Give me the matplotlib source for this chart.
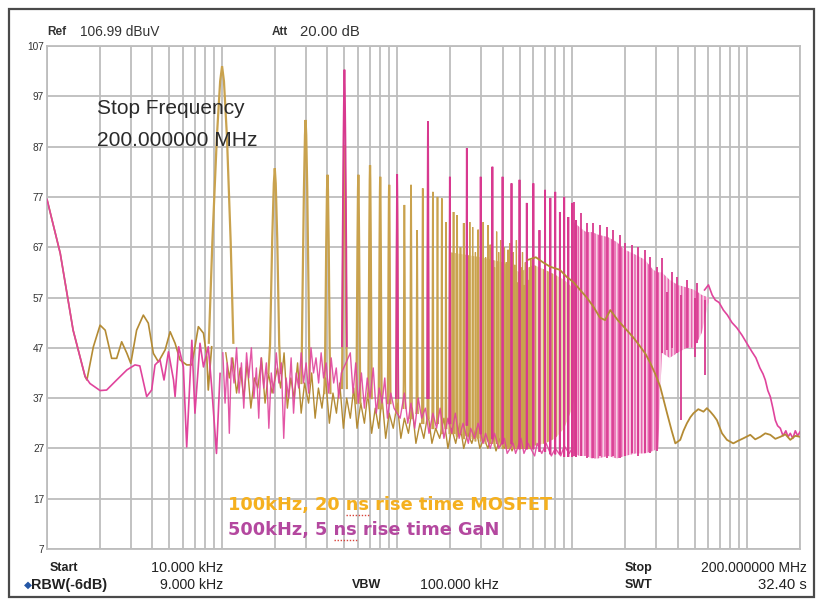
import numpy as np
import matplotlib
matplotlib.use("Agg")
import matplotlib.pyplot as plt
from matplotlib.patches import Rectangle
from matplotlib.lines import Line2D

W, H = 822, 605

# ---------------- data ----------------
y_ticks = [7, 17, 27, 37, 47, 57, 67, 77, 87, 97, 107]
f_start_hz = 10e3
f_stop_hz = 200e6

# MOSFET, 100 kHz fundamental (tan trace)
mos_f0_khz = 100
mos_low_khz = [10, 11.9, 14.1, 16.5, 16.9, 18.4, 20.1, 21.5, 23.4, 25.0, 26.7, 28.6, 30.1, 32.5, 35.5,
               37.9, 40.5, 43.3, 47.3, 50.5, 53.9, 57.5, 62.8, 67.2, 73.2, 78.3, 81.8, 83.4, 87.2]
mos_low_db = [76.5, 65.8, 50.5, 41.3, 40.6, 47.2, 51.5, 50.5, 44.9, 44.9, 48.2, 45.9, 43.9, 50.5, 53.5,
              51.9, 45.9, 44.2, 46.6, 50.2, 47.9, 44.6, 43.6, 43.6, 51.2, 49.9, 45.2, 38.6, 47.2]
mos_floor_khz = [105, 110, 115, 121, 127, 133, 139, 146, 153, 160, 168, 176, 184, 193, 207, 216, 226, 236,
                 247, 258, 270, 283, 296, 312, 325, 340, 355, 372, 390, 410, 430, 450, 470, 493, 515, 540,
                 565, 590, 620, 650, 680, 715, 750, 785, 820, 860, 900, 950, 1000, 1050, 1100, 1160, 1220,
                 1280, 1350, 1420, 1500, 1580, 1660, 1750, 1850, 1950, 2050, 2160, 2280, 2400, 2530, 2670,
                 2820, 2970, 3130, 3300, 3480, 3670, 3870, 4080, 4300, 4530, 4780, 5040, 5300, 5600]
mos_floor_db = [46, 41, 45, 38, 43, 37, 44, 35, 41, 39, 45, 36, 42, 38, 43, 39, 46, 35,
                41, 37, 44, 34, 40, 36, 42, 33, 39, 35, 41, 32, 38, 34, 40, 31, 37, 33,
                39, 31, 36, 32, 38, 30, 35, 31, 37, 29, 34, 31, 36, 29, 33, 30, 35,
                28, 32, 29, 34, 28, 31, 29, 33, 27, 31, 28, 32, 27, 30, 28,
                31, 27, 29, 27, 30, 26.5, 29, 27, 29.5, 26.5, 28.5, 27, 29, 27]
mos_harm_n = list(range(1, 61))
mos_peak_db = [103, 82.7, 92.3, 81.4, 87.3, 81.4, 83.3, 81.0, 79.4, 78.0,
               75.4, 79.4, 70.4, 78.7, 76.0, 78.0, 77.0, 76.7, 72.0, 70.4,
               74.0, 73.4, 67.0, 71.8, 69.4, 72.0, 71.0, 66.0, 70.5, 68.0,
               72.0, 65.0, 71.4, 67.5, 69.0, 63.0, 70.1, 66.0, 68.4, 62.0,
               67.0, 64.0, 66.5, 67.8, 61.0, 66.0, 63.5, 68.4, 60.0, 65.5,
               63.0, 66.0, 59.5, 64.0, 65.4, 60.5, 63.0, 64.5, 58.0, 64.8]
mos_base_db = [47, 42, 40, 38, 39, 36, 37, 35, 36, 34,
               35, 33, 34, 32, 33, 31, 32, 30, 31, 30,
               30, 29.5, 30, 29, 29.5, 29, 29, 28.5, 29, 28.5,
               28.5, 28, 28.5, 28, 28, 27.5, 28, 27.5, 27.5, 27,
               27.5, 27, 27, 27, 27, 27, 27, 27, 27, 27,
               27, 27, 27, 27, 27, 27, 27, 27, 27, 27]
mos_band_mhz = [2.0, 3.0, 4.0, 5.0, 6.0, 7.0, 8.0, 9.0, 10.0, 11.0]
mos_band_lo = [30, 29, 28, 27.5, 27.5, 28, 29, 31, 35, 42]
mos_band_hi = [66, 65, 64, 62, 63.5, 62.5, 61.5, 60.5, 59, 57.5]
mos_hf_mhz = [5.6, 6.2, 6.8, 7.5, 8.5, 9.3, 10.2, 11.1, 12.1, 13.2, 14.4, 15.4, 16.5, 18.2, 20.5, 22.4,
              24.5, 26.2, 27.9, 29.8, 31.8, 34.8, 37.0, 38.8, 41.4, 43.2, 45.2, 47.3, 49.3, 52.5, 56.2,
              58.8, 61.5, 64.3, 67.1, 69.5, 71.7, 76.5, 83.2, 88.5, 94.9, 104, 111, 118.6, 126.7, 135.3,
              144.6, 154.4, 165, 176, 188, 200]
mos_hf_db = [64.5, 65, 64, 63.1, 62.5, 61.1, 60, 58.5, 57, 55.2, 53, 52.5, 54.5, 52.5, 50.5, 49,
             47.2, 45.8, 44, 41.8, 39.3, 34, 30.5, 28, 28.7, 30.5, 32, 33.2, 34, 34.8, 34.3,
             35, 34.3, 33.5, 32.6, 31.2, 30, 28.7, 28, 28.5, 29, 29.7, 28.8, 29.3, 30, 29.7,
             28.9, 29.3, 29.8, 28.7, 29.5, 29.3]

# GaN, 500 kHz fundamental (pink trace)
gan_f0_khz = 500
gan_low_khz = [10, 11.9, 14.1, 16.5, 17.6, 20.1, 21.9, 25.0, 28.6, 31.8, 33.9, 37.1, 39.6, 41.4, 44.2,
               46.6, 49.4, 52.8, 53.9, 56.5, 60.1, 62.8, 67.2, 70.0, 74.8, 78.3, 83.4, 87.2, 92.9, 97.4]
gan_low_db = [76.5, 65.8, 50.5, 41.3, 39.9, 38.5, 38.6, 40.6, 42.6, 43.6, 43.4, 37.3, 38.6, 43.6, 44.6,
              40.6, 46.2, 40.6, 37.3, 47.2, 43.2, 27.3, 48.5, 34.0, 47.9, 43.2, 47.2, 39.3, 26.0, 41.9]
gan_floor_khz = [101, 104, 107, 110, 113, 117, 121, 125, 129, 133, 138, 142, 147, 152, 157, 162, 167, 173,
                 179, 185, 191, 197, 204, 211, 218, 225, 232, 240, 248, 256, 265, 274, 283, 292, 302, 312,
                 322, 333, 344, 356, 368, 380, 393, 406, 420, 434, 449, 464, 480, 510, 540, 560, 580, 600,
                 625, 650, 675, 700, 730, 760, 790, 820, 850, 880, 920, 960, 1040, 1100, 1150, 1200, 1260,
                 1320, 1380, 1450, 1520, 1600, 1680, 1760, 1850, 1950, 2050, 2150, 2260, 2380, 2550, 2630,
                 2770, 2900, 3100, 3200, 3400, 3600, 3800, 4100, 4250, 4600, 4750, 5100, 5300, 5600, 6100,
                 6300, 6700, 7100, 7600, 8000, 8600, 9000, 9600, 10000]
gan_floor_db = [46, 36, 44, 30, 45, 40, 47, 38, 44, 35, 46, 41, 47, 37, 43, 33, 45, 39,
                44, 31, 42, 38, 46, 40, 44, 29, 41, 37, 45, 34, 42, 39, 46, 40, 44, 38,
                47, 42, 45, 40, 46, 41, 44, 38, 45, 40, 43, 37, 42, 44, 46, 38, 44, 36,
                42, 35, 41, 37, 43, 34, 39, 36, 41, 33, 38, 35, 33, 38, 32, 36, 31,
                37, 33, 35, 30, 34, 31, 35, 29, 33, 30, 34, 29, 32, 28, 31,
                29, 32, 28, 30, 27, 30, 27, 29, 26, 28, 26, 29, 26, 28, 25.5,
                28, 26, 28, 25.5, 27, 25.5, 27.5, 26, 27]
gan_harm_n = list(range(1, 22))
gan_peak_db = [102.3, 81.5, 92, 81, 86.7, 81, 83, 81, 79.7, 80.4, 75.8, 79.7, 70.4, 78.4, 76.8,
               78, 74, 77, 73, 75.8, 72.4]
gan_base_db = [42, 37, 34, 32, 31, 30, 29, 28, 28, 27, 27, 27, 26.5, 26.5, 26, 26, 26, 25.5, 25.5,
               25.5, 25.5]
gan_band_mhz = [10.2, 11, 12, 13, 14, 16, 18, 20, 23, 26, 29, 31, 32.5, 36, 40, 45, 50, 55, 60]
gan_band_lo = [26, 25.5, 25.5, 25, 25, 25.5, 25, 25.5, 26, 26, 26.5, 27, 46, 45, 46, 47, 47, 50, 56]
gan_band_hi = [72, 71, 70, 70, 69.5, 69, 68, 66.5, 65.5, 64.5, 62.5, 62, 62, 60.5, 59.5, 59, 58.5, 57.5, 57]
gan_spk_mhz = [10.17, 11.21, 12.13, 13.18, 14.45, 15.78, 17.14, 18.8, 20.09, 21.93, 23.8, 26.1, 27.9,
               30.5, 32.6, 37.2, 39.6, 45.2, 51.6]
gan_spk_top = [76, 73.8, 71.8, 71.8, 71.4, 71, 70.4, 69.4, 67.8, 67.4, 67, 66.4, 65.1, 63.1, 64.8,
               62.1, 61.1, 60.5, 59.8]
gan_spk_bot = [25.5, 25.5, 25, 25, 25.5, 25, 25.5, 25, 25.5, 26, 25.5, 26, 26, 26.5, 46, 47, 46, 47, 48]
gan_dip_mhz = [34.8, 41.8, 50.5, 57.5]
gan_dip_top = [58, 57.5, 57, 56.5]
gan_dip_bot = [46.5, 32.6, 45.2, 41.6]
gan_hf_mhz = [57, 60, 63, 65.6, 69, 73, 77, 81.8, 87, 93.3, 99, 106.4, 112, 118, 123, 126.7, 131, 135.3,
              140, 144.6, 149, 154.4, 160, 166, 171, 176, 182, 188, 194, 200]
gan_hf_db = [58.5, 59.5, 57.5, 56.5, 56, 54.5, 53.5, 52, 51, 49.5, 48, 46.2, 45, 43, 41.8, 40.6, 38.5,
             37.3, 35, 32.6, 31.5, 31, 29.5, 30.5, 29.3, 30, 29, 30.5, 29.5, 30.3]

# resolution-bandwidth (9 kHz RBW) filter skirt used to draw each harmonic line
rbw_off_khz = np.array([-16, -12, -6.6, -2.5, 0, 2.5, 6.6, 12, 16])
rbw_rel_db = np.array([-55, -35, -14, -3, 0, -3, -14, -35, -55])

TAN = "#C9A24E"
TAN_D = "#B48B34"
TAN_L = "#EDDDB8"
PINK = "#E0449C"
PINK_D = "#D8398F"
PINK_L = "#F8D2E6"
PINK_H = "#E862AE"

plt.rcParams["hatch.linewidth"] = 1.1

# ---------------- figure ----------------
fig = plt.figure(figsize=(W / 100, H / 100), dpi=100)
ax = fig.add_axes([47 / W, 1 - 549 / H, 753 / W, 503 / H])
ax.set_xscale("log")
ax.set_xlim(f_start_hz, f_stop_hz)
ax.set_ylim(y_ticks[0], y_ticks[-1])
ax.set_axisbelow(True)

grid_f = [m * 10 ** d for d in range(4, 9) for m in range(1, 10) if f_start_hz <= m * 10 ** d <= f_stop_hz]
ax.set_xticks(grid_f)
ax.set_xticks([], minor=True)
ax.set_xticklabels([])
ax.set_yticks(y_ticks)
ax.set_yticklabels([str(v) for v in y_ticks], fontsize=7.3, color="#333333",
                   family=["Liberation Sans", "DejaVu Sans"])
ax.tick_params(length=0, pad=2)
ax.grid(True, color="#BDBDBD", lw=1.3)
for sp in ax.spines.values():
    sp.set_color("#BDBDBD")
    sp.set_linewidth(1.3)

def spike(f_khz, peak, base, color, lw, z):
    fx = (f_khz + rbw_off_khz) * 1e3
    yy = np.maximum(peak + rbw_rel_db, base)
    ax.plot(fx, yy, color=color, lw=lw, zorder=z, solid_joinstyle="miter")

# MOSFET (tan)
ax.fill_between(np.array(mos_band_mhz) * 1e6, mos_band_lo, mos_band_hi, facecolor=TAN_L,
                edgecolor=TAN, hatch="||||", lw=0, zorder=1.8)
ax.plot(np.array(mos_low_khz) * 1e3, mos_low_db, color=TAN_D, lw=1.2, zorder=2)
ax.plot(np.array(mos_floor_khz) * 1e3, mos_floor_db, color=TAN_D, lw=1.0, zorder=2)
for n, pk, bs in zip(mos_harm_n, mos_peak_db, mos_base_db):
    spike(n * mos_f0_khz, pk, bs, TAN, 1.6 if n < 10 else (1.2 if n < 25 else 0.9), 2.1)

# GaN (pink)
ax.plot(np.array(gan_low_khz) * 1e3, gan_low_db, color=PINK, lw=1.2, zorder=3)
ax.plot(np.array(gan_floor_khz) * 1e3, gan_floor_db, color=PINK, lw=1.0, alpha=0.9, zorder=3)
for n, pk, bs in zip(gan_harm_n, gan_peak_db, gan_base_db):
    spike(n * gan_f0_khz, pk, bs, PINK_D, 1.3, 3.1)
ax.fill_between(np.array(gan_band_mhz) * 1e6, gan_band_lo, gan_band_hi, facecolor=PINK_L,
                edgecolor=PINK_H, hatch="|||||", lw=0, zorder=3)
ax.vlines(np.array(gan_spk_mhz) * 1e6, gan_spk_bot, gan_spk_top, color=PINK_D, lw=1.3, zorder=3.2)
ax.vlines(np.array(gan_dip_mhz) * 1e6, gan_dip_bot, gan_dip_top, color=PINK_D, lw=1.3, zorder=3.2)
ax.plot(np.array(gan_hf_mhz) * 1e6, gan_hf_db, color=PINK, lw=1.2, zorder=4)

# MOSFET high-frequency envelope on top
ax.plot(np.array(mos_hf_mhz) * 1e6, mos_hf_db, color=TAN_D, lw=1.3, zorder=4.5)

# ---------------- texts ----------------
renderer = fig.canvas.get_renderer()
SANS = ["Liberation Sans", "DejaVu Sans"]

def put(x, y, s, target_w=None, size=9, ha="left", **kw):
    kw.setdefault("family", SANS)
    t = fig.text(x / W, 1 - y / H, s, fontsize=size, ha=ha, va="center", **kw)
    if target_w:
        w = t.get_window_extent(renderer).width
        t.set_fontsize(size * target_w / w)
    return t

HDR = "#333333"
put(47, 32, "Ref", None, 8.5, weight="bold", color=HDR)
put(80, 32, "106.99 dBuV", 80, 9, color=HDR)
put(272, 32, "Att", None, 8.5, weight="bold", color=HDR)
put(300, 32, "20.00 dB", 60, 9, color=HDR)

put(97, 109, "Stop Frequency", 148, 14, color="#2B2B2B")
put(97, 140, "200.000000 MHz", 161, 14, color="#2B2B2B")

ORANGE = "#F5B01E"
PURPLE = "#B4489F"
leg1 = "100kHz, 20 ns rise time MOSFET"
leg2 = "500kHz, 5 ns rise time GaN"
t1 = put(228, 505, leg1, 325, 14, weight="bold", color=ORANGE, family=["DejaVu Sans"])
t2 = put(228, 530, leg2, 271, 14, weight="bold", color=PURPLE, family=["DejaVu Sans"])

def underline(t, prefix, word, ypix):
    fs = t.get_fontsize()
    probe = fig.text(0, 0, prefix + word, fontsize=fs, weight="bold", family=["DejaVu Sans"])
    probe2 = fig.text(0, 0, word, fontsize=fs, weight="bold", family=["DejaVu Sans"])
    w_all = probe.get_window_extent(renderer).width
    w_word = probe2.get_window_extent(renderer).width
    probe.remove(); probe2.remove()
    x0 = t.get_window_extent(renderer).x0
    xa, xb = x0 + w_all - w_word, x0 + w_all
    fig.add_artist(Line2D([xa / W, xb / W], [1 - ypix / H] * 2, transform=fig.transFigure,
                          color="#D9433A", lw=1.0, ls=(0, (1, 1.2))))

underline(t1, "100kHz, 20 ", "ns", 515)
underline(t2, "500kHz, 5 ", "ns", 540)

BOT = "#222222"
BS = 9
put(50, 568, "Start", None, BS, weight="bold", color=BOT)
put(223, 568, "10.000 kHz", 73, 9, ha="right", color=BOT)
put(625, 568, "Stop", None, BS, weight="bold", color=BOT)
put(807, 568, "200.000000 MHz", 106, 9, ha="right", color=BOT)
put(24, 585, "\u25C6", None, 7.5, color="#2457A6", family=["DejaVu Sans"])
put(31, 585, "RBW(-6dB)", 76, BS, weight="bold", color=BOT)
put(223, 585, "9.000 kHz", 64, 9, ha="right", color=BOT)
put(352, 585, "VBW", None, BS, weight="bold", color=BOT)
put(420, 585, "100.000 kHz", 80, 9, color=BOT)
put(625, 585, "SWT", None, BS, weight="bold", color=BOT)
put(807, 585, "32.40 s", 49, 9, ha="right", color=BOT)

# outer frame
fig.add_artist(Rectangle((9 / W, 1 - 597 / H), 805 / W, 588 / H, transform=fig.transFigure,
                         fill=False, ec="#4A4A4A", lw=1.6))

fig.savefig("out.png", dpi=100)
